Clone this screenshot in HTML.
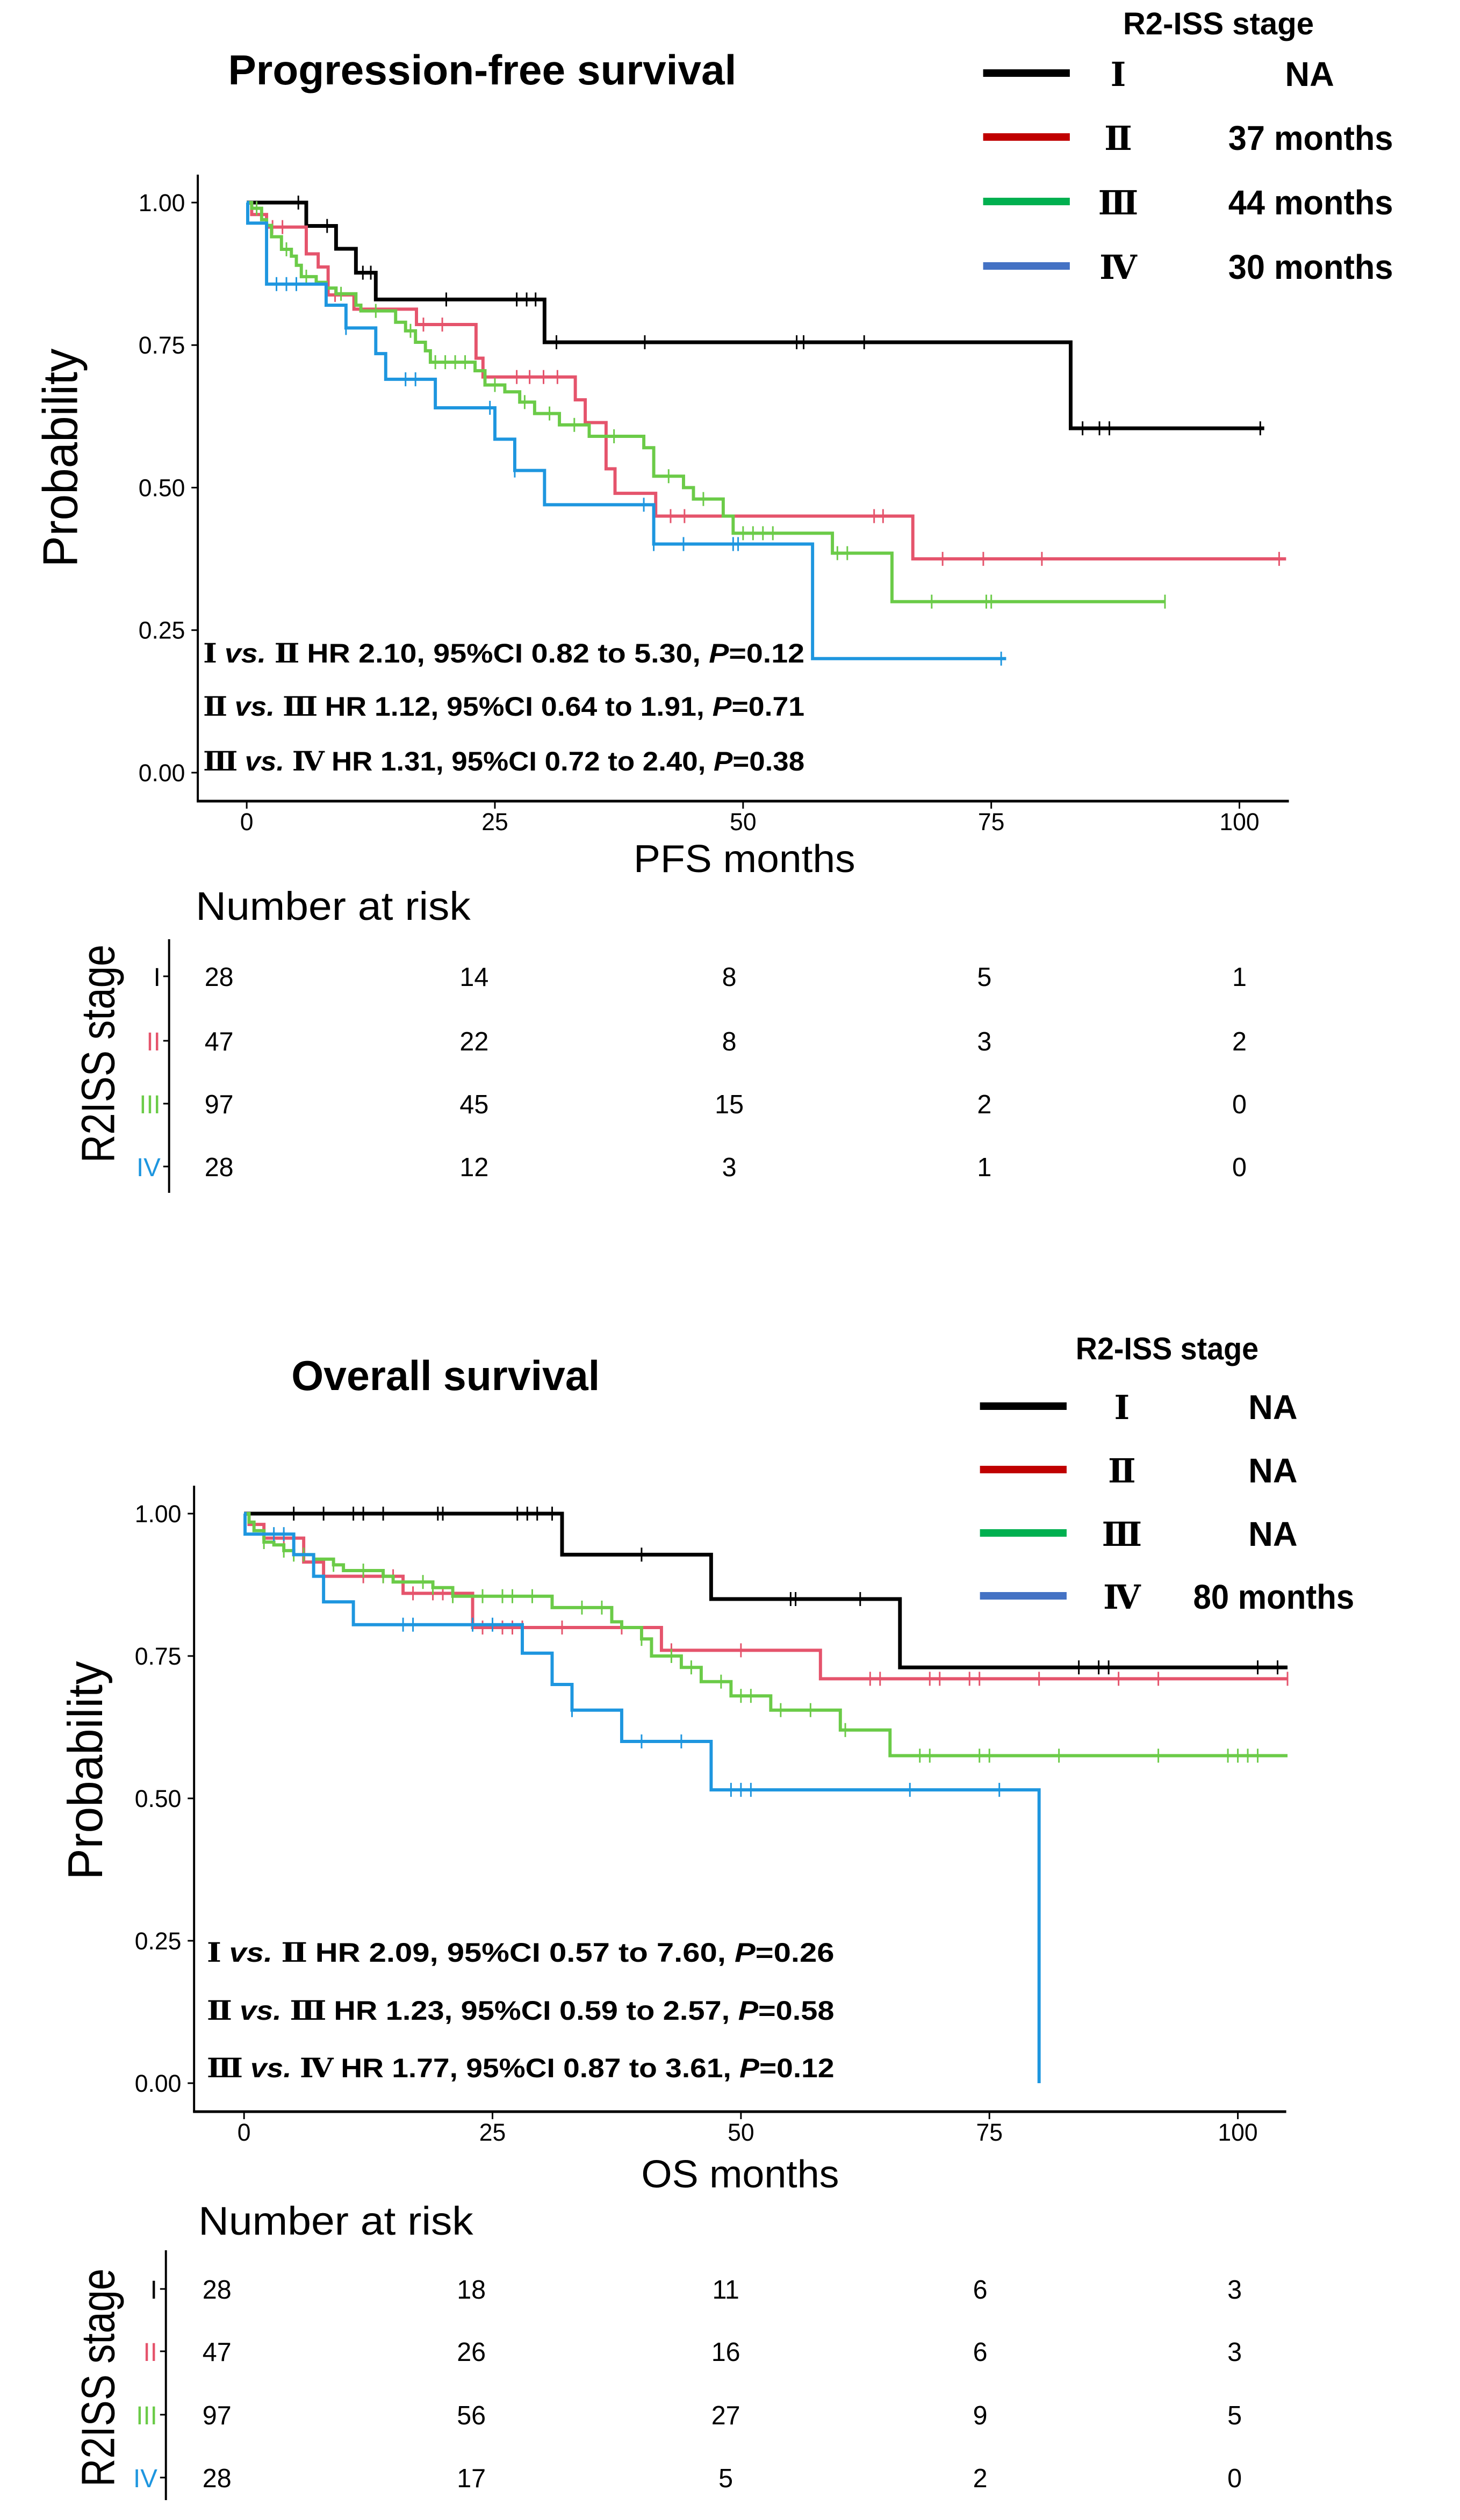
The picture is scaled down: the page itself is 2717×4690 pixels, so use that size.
<!DOCTYPE html>
<html><head><meta charset="utf-8"><style>
html,body{margin:0;padding:0;background:#fff;}
svg{display:block;}
.n{font-family:"Liberation Sans Narrow","Liberation Sans",sans-serif;}
.s{font-family:"Liberation Sans",sans-serif;}
.r{font-family:"Liberation Serif","DejaVu Serif","Noto Serif CJK SC",serif;}
</style></head><body>
<svg id="chart" width="2717" height="4690" viewBox="0 0 2717 4690" xmlns="http://www.w3.org/2000/svg">
<rect width="2717" height="4690" fill="#fff"/>
<g id="root" transform="scale(0.9895,1)"></g>
</svg>
<script>
// ---------- data ----------
const stageNames = ["I","II","III","IV"];
const stageRoman = ["Ⅰ","Ⅱ","Ⅲ","Ⅳ"];
const curveColors = ["#000000","#E5546C","#6BCB48","#1E96DF"];
const legendColors = ["#000000","#C00000","#00B050","#4472C4"];
const xTicks = [0,25,50,75,100];
const yTicks = [0,0.25,0.5,0.75,1.0];
const yTickLabels = ["0.00","0.25","0.50","0.75","1.00"];

const pfsMedians = ["NA","37 months","44 months","30 months"];
const osMedians = ["NA","NA","NA","80 months"];

// PFS step data: drop times and survival after drop
const pfsT1 = [6,9,11,13,30,83];
const pfsS1 = [0.959,0.919,0.877,0.830,0.755,0.604];
const pfsEnd1 = 102.5;
const pfsC1 = [5.2,8.1,11.7,12.5,20.1,27.2,28.2,29.1,31.2,40.1,55.4,56.1,62.2,84.2,85.9,86.9,102.1];

const pfsT2 = [0.5,2,6,7.2,8.2,10.8,17.1,23.1,23.8,33.1,34.1,36.2,37.1,41.2,67.1];
const pfsS2 = [0.979,0.957,0.910,0.887,0.838,0.813,0.786,0.727,0.694,0.654,0.614,0.533,0.490,0.450,0.375];
const pfsEnd2 = 104.7;
const pfsC2 = [2.6,3.6,8.9,17.8,19.7,27.2,28.5,29.9,31.3,42.7,44.1,63.2,64.1,70.1,74.2,80.1,104];

const pfsT3 = [0.5,1.5,2,2.5,3.5,4.5,5,5.5,7,8,9,11,11.5,15,16,17,18,18.5,23,24,26,27.5,29,31.5,34.5,40,41,44,45,48,49,59,65];
const pfsS3 = [0.99,0.97,0.96,0.94,0.918,0.906,0.89,0.87,0.86,0.85,0.84,0.82,0.81,0.79,0.775,0.755,0.74,0.72,0.705,0.68,0.668,0.65,0.63,0.61,0.59,0.57,0.52,0.50,0.48,0.45,0.42,0.385,0.30];
const pfsEnd3 = 92.5;
const pfsC3 = [1,4,6,9.5,13,16.5,19,20,21,22,25,28,30.5,33,37,42.5,46,50,51,52,53,59.5,60.5,69,74.5,75,92.5];

const pfsT4 = [0.1,2,8,10,13,14,19,25,27,30,41,57];
const pfsS4 = [0.964,0.857,0.82,0.78,0.735,0.69,0.64,0.585,0.53,0.47,0.401,0.20];
const pfsEnd4 = 76.5;
const pfsC4 = [3,4,5,10,16,17,24.5,27,40,41,44,49,49.5,76];

// OS step data
const osT1 = [32,47,66];
const osS1 = [0.928,0.85,0.73];
const osEnd1 = 105;
const osC1 = [5,8,11,12,14,19.5,20,27.5,28.5,29.5,31,40,55,55.5,62,84,86,87,102,104];

const osT2 = [0.5,2,6,8,16,23,42,58];
const osS2 = [0.981,0.957,0.915,0.89,0.86,0.80,0.76,0.71];
const osEnd2 = 105;
const osC2 = [3,4,8,12,14,15,17,19,20,21,24,26,27,28,32,38,43,50,63,64,69,70,73,74,80,88,92,105];

const osT3 = [0.5,1,2,3,4,5,7,9,10,14,15,19,21,31,37,38,40,41,44,46,49,53,60,65];
const osS3 = [0.985,0.97,0.95,0.945,0.935,0.928,0.92,0.91,0.90,0.89,0.88,0.87,0.855,0.835,0.81,0.80,0.78,0.75,0.73,0.705,0.68,0.655,0.62,0.575];
const osEnd3 = 105;
const osC3 = [2,4,5,6,9,12,14,18,19,21,24,26,27,29,34,36,40,43,45,48,50,51,54,57,60.5,68,69,74,75,82,92,99,100,101,102];

const osT4 = [0.1,5,7,8,11,28,31,33,38,47,80];
const osS4 = [0.964,0.928,0.89,0.845,0.805,0.755,0.70,0.655,0.60,0.515,0];
const osEnd4 = 80;
const osC4 = [3,4,16,17,23,25,33,40,44,49,50,51,67,76];

const pfsRisk1 = [28,14,8,5,1];
const pfsRisk2 = [47,22,8,3,2];
const pfsRisk3 = [97,45,15,2,0];
const pfsRisk4 = [28,12,3,1,0];
const osRisk1 = [28,18,11,6,3];
const osRisk2 = [47,26,16,6,3];
const osRisk3 = [97,56,27,9,5];
const osRisk4 = [28,17,5,2,0];

const pfsHR = [["Ⅰ","Ⅱ","HR 2.10, 95%CI 0.82 to 5.30, ","=0.12"],["Ⅱ","Ⅲ","HR 1.12, 95%CI 0.64 to 1.91, ","=0.71"],["Ⅲ","Ⅳ","HR 1.31, 95%CI 0.72 to 2.40, ","=0.38"]];
const osHR = [["Ⅰ","Ⅱ","HR 2.09, 95%CI 0.57 to 7.60, ","=0.26"],["Ⅱ","Ⅲ","HR 1.23, 95%CI 0.59 to 2.57, ","=0.58"],["Ⅲ","Ⅳ","HR 1.77, 95%CI 0.87 to 3.61, ","=0.12"]];

// ---------- drawing ----------
const NS = "http://www.w3.org/2000/svg";
const svg = document.getElementById("root");
function mk(tag, attrs, parent){
  const e = document.createElementNS(NS, tag);
  for (const k in attrs) e.setAttribute(k, attrs[k]);
  (parent||svg).appendChild(e);
  return e;
}
function txt(str, attrs, parent){
  const e = mk("text", attrs, parent);
  e.textContent = str;
  return e;
}
function survAt(T, S, t){
  let s = 1;
  for (let i=0;i<T.length;i++){ if (T[i] <= t) s = S[i]; }
  return s;
}

function panel(cfg){
  const g = mk("g", {});
  
  
  const X = m => cfg.x0 + m*cfg.xs;
  const Y = v => cfg.yb + (cfg.yt - cfg.yb)*v;

  const t = txt(cfg.title, {x:cfg.titleX, y:cfg.titleY, "font-size":78, "font-weight":"bold", class:"n", textLength:cfg.titleLen, lengthAdjust:"spacingAndGlyphs"}, g);
  
  

  const lg = mk("g", {}, g);
  
  
  const lt = txt("R2-ISS stage", {x:cfg.legTitleX, y:cfg.legTitleY, "font-size":58, "font-weight":"bold", class:"n", textLength:cfg.legTitleLen, lengthAdjust:"spacingAndGlyphs"}, lg);
  
  
  for (let i=0;i<4;i++){
    const cy = cfg.legY[i];
    const e = mk("g", {}, lg);
    
    
    mk("rect", {x:cfg.legLineX, y:cy-7, width:163, height:14, fill:legendColors[i]}, e);
    txt(stageRoman[i], {x:cfg.legNumX, y:cy+24, "font-size":62, "font-weight":"bold", class:"r", "text-anchor":"middle"}, e);
    const v = cfg.medians[i];
    if (v === "NA") txt(v, {x:cfg.legNAX, y:cy+24, "font-size":64, "font-weight":"bold", class:"n", "text-anchor":"middle"}, e);
    else txt(v, {x:cfg.legValR, y:cy+24, "font-size":64, "font-weight":"bold", class:"n", "text-anchor":"end", textLength:cfg.legValLen, lengthAdjust:"spacingAndGlyphs"}, e);
  }

  const ax = mk("g", {}, g);
  
  
  mk("line", {x1:cfg.axL, y1:cfg.axT, x2:cfg.axL, y2:cfg.axB, stroke:"#000", "stroke-width":4}, ax);
  mk("line", {x1:cfg.axL-2, y1:cfg.axB, x2:cfg.axR, y2:cfg.axB, stroke:"#000", "stroke-width":5}, ax);
  for (let i=0;i<yTicks.length;i++){
    const y = Y(yTicks[i]);
    mk("line", {x1:cfg.axL-12, y1:y, x2:cfg.axL, y2:y, stroke:"#000", "stroke-width":3}, ax);
    const l = txt(yTickLabels[i], {x:cfg.axL-24, y:y+16, "font-size":45, class:"s", "text-anchor":"end"}, ax);
    
    
  }
  for (let i=0;i<xTicks.length;i++){
    const x = X(xTicks[i]);
    mk("line", {x1:x, y1:cfg.axB, x2:x, y2:cfg.axB+14, stroke:"#000", "stroke-width":3}, ax);
    const l = txt(String(xTicks[i]), {x:x, y:cfg.axB+54, "font-size":45, class:"s", "text-anchor":"middle"}, ax);
    
    
  }
  const xt = txt(cfg.xTitle, {x:cfg.xTitleX, y:cfg.xTitleY, "font-size":72, class:"n", "text-anchor":"middle", textLength:cfg.xTitleLen, lengthAdjust:"spacingAndGlyphs"}, ax);
  
  
  const yt = txt("Probability", {x:0, y:0, "font-size":92, class:"s", "text-anchor":"middle", textLength:407, lengthAdjust:"spacingAndGlyphs", transform:`translate(${cfg.probX},${cfg.probY}) rotate(-90)`}, ax);
  
  

  for (let i=0;i<4;i++){
    const T = cfg.T[i], S = cfg.S[i];
    let d = `M${X(0)},${Y(1)}`;
    for (let k=0;k<T.length;k++){ d += ` H${X(T[k])} V${Y(S[k])}`; }
    d += ` H${X(cfg.E[i])}`;
    const p = mk("path", {d:d, fill:"none", stroke:curveColors[i], "stroke-width":i===0?7:6}, g);
    
    
    const cg = mk("g", {stroke:curveColors[i], "stroke-width":3}, g);
    
    
    for (const c of cfg.C[i]){
      const x = X(c), y = Y(survAt(T,S,c));
      mk("line", {x1:x, y1:y-13, x2:x, y2:y+13}, cg);
    }
  }

  const hg = mk("g", {}, g);
  
  
  for (let i=0;i<3;i++){
    const h = cfg.hr[i];
    const t2 = mk("text", {x:cfg.hrX, y:cfg.hrY[i], "font-size":50, "font-weight":"bold", class:"n", textLength:cfg.hrLen, lengthAdjust:"spacingAndGlyphs"}, hg);
    
    
    const a = mk("tspan", {class:"r"}, t2); a.textContent = h[0] + " ";
    const b = mk("tspan", {"font-style":"italic"}, t2); b.textContent = "vs. ";
    const c = mk("tspan", {class:"r"}, t2); c.textContent = h[1] + "  ";
    const d2 = mk("tspan", {}, t2); d2.textContent = h[2];
    const e = mk("tspan", {"font-style":"italic"}, t2); e.textContent = "P";
    const f = mk("tspan", {}, t2); f.textContent = h[3];
  }

  const rg = mk("g", {}, g);
  
  
  const nr = txt("Number at risk", {x:cfg.nrX, y:cfg.nrY, "font-size":74, class:"n", textLength:517, lengthAdjust:"spacingAndGlyphs"}, rg);
  
  
  mk("line", {x1:cfg.rAx, y1:cfg.rTop, x2:cfg.rAx, y2:cfg.rBot, stroke:"#000", "stroke-width":4}, rg);
  const rs = txt("R2ISS stage", {x:0, y:0, "font-size":88, class:"s", "text-anchor":"middle", textLength:406, lengthAdjust:"spacingAndGlyphs", transform:`translate(${cfg.rLabX},${cfg.rLabY}) rotate(-90)`}, rg);
  
  
  const RX = m => cfg.rx0 + m*cfg.rxs;
  for (let i=0;i<4;i++){
    const cy = cfg.rRows[i];
    mk("line", {x1:cfg.rAx-11, y1:cy, x2:cfg.rAx, y2:cy, stroke:"#000", "stroke-width":3}, rg);
    txt(stageNames[i], {x:cfg.rAx-16, y:cy+18, "font-size":48, class:"n", fill:curveColors[i], "text-anchor":"end"}, rg);
    const row = cfg.risk[i];
    for (let k=0;k<xTicks.length;k++){
      const n = txt(String(row[k]), {x:RX(xTicks[k]), y:cy+18, "font-size":49, class:"s", "text-anchor":"middle"}, rg);
      
      
    }
  }
}

panel({
  name:"pfs-panel", title:"Progression-free survival", titleX:429, titleY:157, titleLen:956,
  legTitleX:2112, legTitleY:64, legTitleLen:359, legY:[136,255,375,495],
  legLineX:1849, legNumX:2103, legNAX:2463, legValR:2620, legValLen:310, medians:pfsMedians,
  x0:464, xs:18.67, yt:377, yb:1438, axL:372, axT:325, axB:1491, axR:2424,
  xTitle:"PFS months", xTitleX:1400, xTitleY:1623, xTitleLen:417, probX:145, probY:852,
  T:[pfsT1,pfsT2,pfsT3,pfsT4], S:[pfsS1,pfsS2,pfsS3,pfsS4], E:[pfsEnd1,pfsEnd2,pfsEnd3,pfsEnd4], C:[pfsC1,pfsC2,pfsC3,pfsC4],
  hr:pfsHR, hrX:382, hrY:[1233,1332,1434], hrLen:1131,
  nrX:368, nrY:1712, rAx:318, rTop:1748, rBot:2220, rLabX:215, rLabY:1961,
  rx0:412, rxs:19.19, rRows:[1817,1937,2054,2171], risk:[pfsRisk1,pfsRisk2,pfsRisk3,pfsRisk4]
});

panel({
  name:"os-panel", title:"Overall survival", titleX:548, titleY:2587, titleLen:580,
  legTitleX:2023, legTitleY:2530, legTitleLen:344, legY:[2617,2735,2853,2970],
  legLineX:1843, legNumX:2110, legNAX:2394, legValR:2547, legValLen:303, medians:osMedians,
  x0:459, xs:18.69, yt:2817, yb:3877, axL:365, axT:2765, axB:3930, axR:2419,
  xTitle:"OS months", xTitleX:1392, xTitleY:4071, xTitleLen:372, probX:192, probY:3295,
  T:[osT1,osT2,osT3,osT4], S:[osS1,osS2,osS3,osS4], E:[osEnd1,osEnd2,osEnd3,osEnd4], C:[osC1,osC2,osC3,osC4],
  hr:osHR, hrX:389, hrY:[3651,3759,3866], hrLen:1180,
  nrX:373, nrY:4159, rAx:312, rTop:4188, rBot:4653, rLabX:215, rLabY:4425,
  rx0:408, rxs:19.14, rRows:[4260,4376,4494,4611], risk:[osRisk1,osRisk2,osRisk3,osRisk4]
});
</script>
</body></html>
